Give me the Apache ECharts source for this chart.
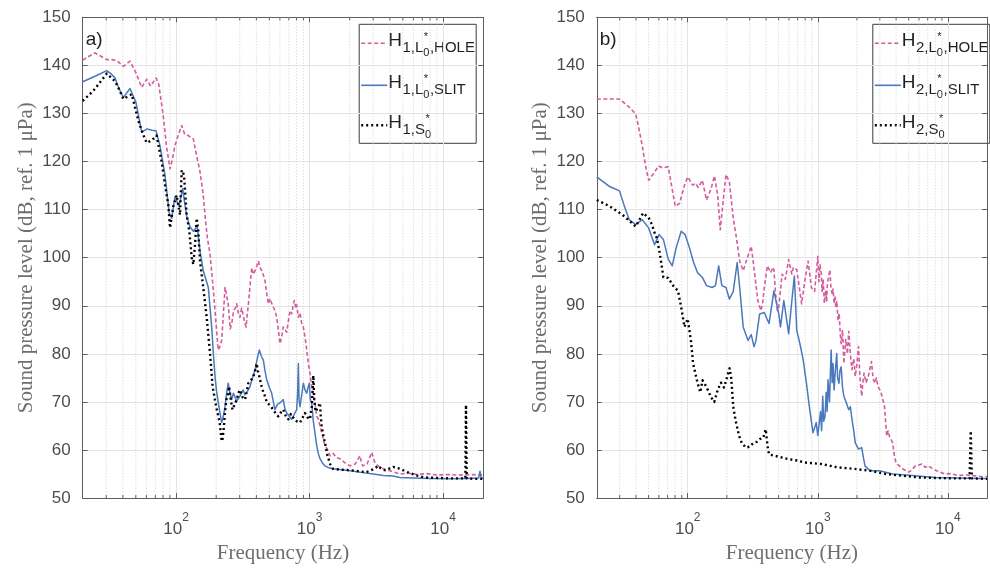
<!DOCTYPE html>
<html>
<head>
<meta charset="utf-8">
<script src="https://cdn.jsdelivr.net/npm/echarts@6/dist/echarts.min.js"></script>
<style>
  html, body { margin: 0; padding: 0; background: #ffffff; }
  #chart { width: 990px; height: 569px; }
</style>
</head>
<body>
<div id="chart"></div>
<script>
// Spectra as [frequency (Hz), level (dB re 1 uPa)] pairs.
// Panel a) — receiver H1
const HOLE_A = [[20,141.1],[22,141.8],[24.7,142.6],[27,142.0],[30.3,141.2],[33,141.2],[36,141.0],[40.3,139.8],[45.2,140.9],[50,138.5],[55.3,135.4],[60.3,137.1],[64.6,135.7],[70.8,137.4],[74.2,136.1],[77,133],[80.3,129.5],[85,123],[90.2,118.5],[94,120.5],[98.2,123.3],[104,125.5],[110.3,127.5],[116,125.7],[123.6,125.4],[134.8,124.7],[142,121.5],[151.2,117.9],[160,113],[166,108],[172,104],[180,100.7],[188,95],[196,89.0],[202,84.5],[207,80.8],[213,81.5],[220,82.9],[226,88],[233,93.8],[240,92],[246,90.4],[255,85.2],[262,86.5],[270,89],[278,89.5],[285,90.4],[293,88.5],[301,87.6],[310,89.5],[319,88.0],[327,86.5],[335,85.6],[341,88],[348,90.1],[358,94],[369,97.9],[380,96.5],[391,97.3],[402,98.2],[414,99.3],[426,98],[438,97.3],[451,96.4],[464,95.2],[478,92.5],[492,90.4],[505,91.5],[521,90.5],[536,89.7],[551,89],[568,87.6],[584,85],[601,82.1],[618,83.5],[636,85.6],[655,86],[675,84.5],[694,86.8],[714,89.0],[736,88.3],[757,90.4],[770,91.1],[790,89.5],[802,90.2],[825,87.6],[849,88.5],[874,86.3],[900,85.5],[925,83.5],[952,81],[980,78.0],[1008,76],[1038,73.2],[1068,71.5],[1099,69.8],[1131,67],[1163,66.5],[1198,65.0],[1250,63],[1306,60.9],[1360,60.2],[1424,58.8],[1500,59.3],[1600,58.4],[1692,58.2],[1850,57.3],[2010,56.7],[2200,57.1],[2388,58.8],[2450,57.3],[2510,56.7],[2700,57.1],[2924,59.5],[3000,58.5],[3090,57.4],[3300,56.6],[3570,56.1],[4000,55.7],[4764,55.0],[5500,55.2],[6500,54.9],[7500,55.1],[9000,54.8],[11000,54.9],[13000,54.8],[16000,54.9],[20000,54.8]];
const SLIT_A = [[20,136.6],[25,137.8],[30.3,138.9],[32.5,138.3],[34.9,137.4],[37,135.5],[40.3,133.3],[45.2,135.2],[50.1,132.3],[55.3,126.1],[60.9,126.8],[66,126.5],[70.8,126.4],[75.8,123.3],[82.7,117.2],[88.9,109.3],[92.8,108.2],[98.2,112.7],[101.2,113.0],[105.3,110.7],[112.2,114.4],[116,111.5],[120.2,108.6],[127,106.5],[134.8,105.5],[144.2,106.5],[151.2,101.4],[160,97.3],[164.8,97],[174.6,93.8],[185,85.6],[190,80.5],[196,75.3],[201,72.3],[207.4,69.8],[214,67.5],[220,65.7],[226,67],[233,69.1],[240,72],[246,73.9],[253,72],[261,70.5],[269,71.8],[277,71.5],[285,70.2],[293,70.5],[305,71.5],[319,72.5],[328,71.5],[338,71.2],[348,72.5],[358,73.2],[374,75],[391,76.7],[406,79],[421,80.8],[436,79.5],[451,78.7],[464,76.5],[478,74.6],[500,73],[521,71.8],[536,70],[551,68.4],[575,69.5],[601,69.8],[618,69.5],[636,70.5],[655,68.5],[675,67.7],[705,67],[736,66.4],[770,67.5],[802,68.4],[815,72],[825,78.0],[835,70.5],[849,69],[874,71.5],[900,73.9],[925,72.5],[952,71.8],[975,73],[997,73.9],[1015,70.5],[1038,69.8],[1068,66],[1099,63.5],[1131,61],[1163,59.3],[1198,58.2],[1250,57.3],[1306,56.7],[1400,56.3],[1500,56.1],[1750,55.9],[2010,55.7],[2500,55.3],[3000,55],[3570,54.7],[4200,54.6],[4764,54.3],[6000,54.2],[8000,54.1],[11270,54.0],[15000,54.1],[18500,54.2],[18920,55.6],[19300,54.2],[20000,54.2]];
const S0_A = [[20,132.6],[24,134.7],[27,136.5],[30.3,138.3],[34.9,136.7],[37.5,135],[40.3,133.0],[46.6,134.0],[52.2,128.5],[56,126],[60.3,123.9],[65.8,124.4],[71.5,125.4],[78.1,119.9],[82.7,115.1],[87.5,111.0],[90.2,106.2],[95.4,110.7],[101.2,113.0],[107.1,108.9],[110.3,118.2],[114.8,117.2],[120.2,108.9],[125.8,105.5],[131.1,100.0],[134.8,98.6],[138.8,102.7],[142.9,108.2],[146.9,105.5],[151.2,99.3],[160,93.8],[169.8,87.6],[179.8,80.1],[188,73.2],[199.5,69.1],[212.5,65.7],[218,62.5],[222,61.8],[227,64],[233,68],[238.7,70.5],[244,71.5],[250,73.2],[257,70.5],[265,68.4],[275,69.5],[285,70.5],[293,71.8],[301,72.5],[315,71],[329,70.5],[338,72],[348,73.9],[364,74.5],[380,75.3],[391,76.5],[402,78.0],[410,76.5],[421,75.3],[438,73.2],[451,72],[464,71.2],[478,70],[492,69.8],[514,69],[536,68.4],[560,67.5],[584,67.0],[610,67.8],[636,68.4],[665,67],[694,66.4],[725,67.5],[757,66.7],[800,66],[849,65.7],[890,66.8],[925,67.7],[965,66.8],[1008,66.4],[1040,69],[1068,75.5],[1085,70.5],[1110,68],[1131,67.7],[1165,69],[1198,69.8],[1215,67],[1233,65.0],[1268,63],[1306,61.5],[1360,59],[1424,57.1],[1500,56.1],[1700,55.9],[2010,55.8],[2300,55.6],[2670,55.4],[3000,56],[3270,56.7],[3480,56],[3680,55.8],[4000,56.2],[4240,56.5],[4764,56.1],[5380,55.4],[6200,54.8],[7200,54.3],[9000,54.2],[11270,54.1],[13500,54.1],[14700,54.1],[14860,69.4],[15050,54.1],[17000,54.0],[20000,54.0]];

// Panel b) — receiver H2
const HOLE_B = [[20,133.0],[25,133.0],[29.9,133.0],[35.5,131.3],[39.8,129.9],[42.2,126.8],[44.7,123.3],[47.3,119.2],[50.1,116.1],[54.7,117.5],[59.6,119.1],[63.7,118.7],[70.8,118.9],[75.0,115.1],[80.2,110.7],[86.6,111.3],[94.5,115.1],[100,116.8],[109.1,115.1],[115.2,115.5],[120.4,114.6],[129.6,116.1],[139.6,112.0],[151.4,114.4],[160.5,117.0],[170,113.0],[177.8,105.8],[188.4,112.4],[197,117.3],[209,115.8],[224,108.2],[237,104.1],[251,99.3],[267,97.3],[282,99.3],[308,102.4],[323,97.9],[346,91.1],[365,89.0],[376,90.4],[388,93.8],[410,98.3],[435,96.9],[451,98],[460,97.5],[474,92.4],[489,89.0],[501,89.7],[532,96.6],[548,96.6],[563,95.5],[597,99.6],[604,100.0],[632,96.6],[650,98],[669,97.9],[689,97.5],[709,95.2],[751,90.4],[795,95.2],[842,99.3],[893,93.8],[919,93.8],[945,93],[973,92.7],[1001,100.3],[1020,95],[1040,98.5],[1061,97],[1080,93],[1100,95.5],[1123,90.5],[1150,93],[1170,91],[1185,94.5],[1210,96],[1240,97.5],[1260,94],[1289,92.4],[1310,93.5],[1335,90.4],[1355,92],[1375,89.7],[1400,91],[1431,87],[1460,88.5],[1490,84],[1513,82.1],[1550,85],[1587,78],[1640,83],[1690,80],[1730,84.7],[1780,80],[1832,76.7],[1890,79],[1942,75.3],[2000,78],[2056,81.5],[2110,75],[2177,71.2],[2220,74],[2268,76.0],[2350,74],[2444,75.3],[2520,77],[2587,78.4],[2660,75],[2740,73.9],[2820,75],[2904,73.2],[3000,72.5],[3076,71.8],[3160,70.5],[3258,69.1],[3320,66],[3390,62.9],[3470,64],[3550,62.9],[3650,63.3],[3764,61.5],[3870,59],[3985,57.4],[4200,56.8],[4470,56.1],[5020,55.4],[5300,55.9],[5630,56.7],[6000,56.9],[6320,57.1],[6700,56.4],[7100,56.7],[7600,56.1],[8200,55.7],[9460,55.0],[10500,55.1],[11920,54.7],[14000,54.8],[17810,54.5],[20000,54.5]];
const SLIT_B = [[20,116.8],[25.1,114.8],[29.9,113.9],[32.6,110.7],[35.5,107.9],[39.8,106.9],[44.7,107.9],[50.1,106.2],[55.6,102.7],[60.2,104.8],[65.0,103.8],[70.8,99.7],[76,98.3],[81.6,102.1],[89.1,105.5],[95.5,104.8],[103,102.1],[111,99.0],[118.9,96.9],[129.6,95.9],[139.6,94.2],[154,93.8],[163.4,94.2],[173,98.3],[183,94.2],[197,93.8],[209,91.4],[224,93],[240,99.0],[251,93.8],[267,85.6],[291,82.8],[308,84],[323,81.5],[335,82.8],[357,88.3],[388,88.6],[422,86.3],[460,93.1],[501,88.3],[517,85.6],[548,91.1],[597,84.2],[632,91.1],[661,96.2],[689,84.9],[729,82.1],[773,78.7],[818,73.9],[867,68.4],[919,63.6],[973,65.7],[1000,63],[1030,62.6],[1050,68],[1070,64],[1092,71.2],[1110,66],[1137,67.0],[1160,72],[1180,68],[1199,74.6],[1230,70],[1267,80.8],[1290,74],[1310,78],[1335,72.5],[1360,76],[1399,80.1],[1420,75],[1455,73.9],[1480,76.5],[1513,77.3],[1550,73],[1587,71.2],[1650,70],[1730,68.4],[1780,69],[1832,66.4],[1890,64],[1942,61.5],[2056,60.2],[2177,60.5],[2240,58.5],[2307,56.7],[2516,55.7],[2990,55.7],[3764,55.0],[5310,54.7],[7960,54.3],[17810,54.1],[20000,54.1]];
const S0_B = [[20,112.0],[25.1,110.7],[31.6,108.9],[39.8,106.5],[45.4,109.3],[50.1,108.3],[53,106.9],[56.2,104.8],[57.9,104.1],[61.2,100.7],[65.0,95.9],[70.8,95.8],[77.2,94.2],[84.2,93.1],[89.1,89.7],[94.5,85.6],[100,87.3],[105.8,82.8],[110,78],[118.9,74],[125,72],[130,74.5],[140,73],[151,71],[160,70],[170,72.5],[180,74],[190,73],[200,75],[210,77],[216,75],[224,69],[234,66],[248,63],[260,61.5],[280,60.5],[300,60.7],[320,61.5],[340,61.7],[360,62.3],[380,62.5],[398,64.3],[410,61],[422,59.1],[500,58.6],[597,58.1],[700,57.8],[795,57.4],[1061,57.1],[1414,56.4],[1886,56.1],[2516,55.7],[3350,55.0],[5960,54.3],[10610,54.1],[14700,54.1],[15000,64.0],[15300,54.1],[20000,54.0]];

// Minor decade positions for the dotted grid and small ticks
const MINOR_F = [30,40,50,60,70,80,90,200,300,400,500,600,700,800,900,2000,3000,4000,5000,6000,7000,8000,9000];

const PINK = '#d45c9c';
const BLUE = '#4a78bd';
const BLACK = '#000000';
const AXIS = '#5e5e5e';
const TICK_TXT = '#4d4d4d';
const TITLE_TXT = '#6e6e6e';
const SANS = "'Liberation Sans', Arial, Helvetica, sans-serif";
const SERIF = "'Liberation Serif', 'Times New Roman', serif";

const GRIDS = [
  { left: 82.7, top: 17.3, width: 400.5, height: 485.4 },
  { left: 596.8, top: 17.3, width: 400, height: 485.4 }
];

function decadeLabel(v) {
  const e = Math.round(Math.log10(v));
  if (Math.abs(Math.pow(10, e) - v) > 1e-6 * v) return '';
  return '{b|10}{s|' + e + '}';
}

function bottomX(i) {
  return {
    type: 'log', logBase: 10, gridIndex: i, min: 20, max: 20000, position: 'bottom',
    axisLine: { show: true, onZero: false, lineStyle: { color: AXIS, width: 1 } },
    axisTick: { show: true, inside: true, length: 5, lineStyle: { color: AXIS } },
    axisLabel: {
      margin: 14, formatter: decadeLabel,
      rich: {
        b: { fontSize: 17, fontFamily: SANS, color: TICK_TXT, lineHeight: 26, verticalAlign: 'bottom' },
        s: { fontSize: 12, fontFamily: SANS, color: TICK_TXT, lineHeight: 12, verticalAlign: 'top' }
      }
    },
    splitLine: { show: true, lineStyle: { color: '#e4e4e4', width: 1 } },
    name: 'Frequency (Hz)', nameLocation: 'middle', nameGap: 41,
    nameTextStyle: { fontFamily: SERIF, fontSize: 21, color: TITLE_TXT }
  };
}
function topX(i) {
  return {
    type: 'log', logBase: 10, gridIndex: i, min: 20, max: 20000, position: 'top',
    axisLine: { show: true, onZero: false, lineStyle: { color: AXIS, width: 1 } },
    axisTick: { show: true, inside: true, length: 5, lineStyle: { color: AXIS } },
    axisLabel: { show: false }, splitLine: { show: false }
  };
}
function leftY(i) {
  return {
    type: 'value', gridIndex: i, min: 50, max: 150, interval: 10, position: 'left',
    axisLine: { show: true, onZero: false, lineStyle: { color: AXIS, width: 1 } },
    axisTick: { show: true, inside: true, length: 5, lineStyle: { color: AXIS } },
    axisLabel: { fontSize: 17, fontFamily: SANS, color: TICK_TXT, margin: 12 },
    splitLine: { show: true, lineStyle: { color: '#e4e4e4', width: 1 } },
    name: 'Sound pressure level (dB, ref. 1 \u03bcPa)', nameLocation: 'middle', nameGap: 46,
    nameTextStyle: { fontFamily: SERIF, fontSize: 21, color: TITLE_TXT }
  };
}
function rightY(i) {
  return {
    type: 'value', gridIndex: i, min: 50, max: 150, interval: 10, position: 'right',
    axisLine: { show: true, onZero: false, lineStyle: { color: AXIS, width: 1 } },
    axisTick: { show: true, inside: true, length: 5, lineStyle: { color: AXIS } },
    axisLabel: { show: false }, splitLine: { show: false }
  };
}

// dotted minor grid lines plus short inward ticks at top and bottom
function minorSeries(i) {
  return {
    type: 'custom', xAxisIndex: i, yAxisIndex: i, z: 1, silent: true,
    data: MINOR_F.map(f => [f, 100]),
    renderItem: function (params, api) {
      const f = api.value(0);
      const t = api.coord([f, 150]);
      const b = api.coord([f, 50]);
      return {
        type: 'group', children: [
          { type: 'line', shape: { x1: t[0], y1: t[1], x2: b[0], y2: b[1] }, style: { stroke: '#cfcfcf', lineWidth: 1, lineDash: [1, 2] } },
          { type: 'line', shape: { x1: b[0], y1: b[1], x2: b[0], y2: b[1] - 3 }, style: { stroke: AXIS, lineWidth: 1 } },
          { type: 'line', shape: { x1: t[0], y1: t[1], x2: t[0], y2: t[1] + 3 }, style: { stroke: AXIS, lineWidth: 1 } }
        ]
      };
    }
  };
}

function lineSeries(i, name, data, color, width, dash) {
  return {
    type: 'line', name: name, xAxisIndex: i, yAxisIndex: i, data: data,
    symbol: 'none', showSymbol: false, z: 3, clip: true,
    lineStyle: { color: color, width: width, type: dash, cap: 'butt', join: 'round' }
  };
}

// Legend drawn as text runs with sub/superscripts
const measureCtx = document.createElement('canvas').getContext('2d');
function textWidth(str, size) { measureCtx.font = size + 'px ' + SANS; return measureCtx.measureText(str).width; }

function legendRow(x, y, color, width, dash, idx, letter, tail) {
  const els = [{ type: 'line', shape: { x1: x, y1: y, x2: x + 26, y2: y }, style: { stroke: color, lineWidth: width, lineDash: dash } }];
  let cx = x + 27;
  const put = (t, size, dy, px) => {
    els.push({ type: 'text', x: px, y: y + dy, style: { text: t, font: size + 'px ' + SANS, fill: '#1f1f1f', align: 'left', verticalAlign: 'middle' } });
  };
  put('H', 19, -3, cx); cx += textWidth('H', 19) + 0.5;
  const sub = idx + ',' + letter;
  put(sub, 15, 5, cx); cx += textWidth(sub, 15);
  put('*', 11, -6, cx + 0.5);
  put('0', 11, 10, cx);
  cx += textWidth('0', 11) + 0.5;
  if (tail) put(',' + tail, 15, 5, cx);
  return els;
}

function legendBox(gi, idx) {
  const g = GRIDS[gi];
  const right = g.left + g.width - 7;
  const top = g.top + 7;
  const w = 117, h = 119;
  const left = right - w;
  const children = [{ type: 'rect', shape: { x: left, y: top, width: w, height: h }, style: { fill: '#ffffff', stroke: '#3c3c3c', lineWidth: 1 } }];
  children.push(...legendRow(left + 2, top + 19, PINK, 1.6, [4, 2.5], idx, 'L', 'HOLE'));
  children.push(...legendRow(left + 2, top + 61, BLUE, 1.6, null, idx, 'L', 'SLIT'));
  children.push(...legendRow(left + 2, top + 101, BLACK, 2.4, [2, 3], idx, 'S', ''));
  return { type: 'group', z: 10, children: children };
}

const chart = echarts.init(document.getElementById('chart'), null, { renderer: 'canvas' });
chart.setOption({
  animation: false,
  backgroundColor: '#ffffff',
  grid: GRIDS.map(g => Object.assign({ containLabel: false }, g)),
  xAxis: [bottomX(0), bottomX(1), topX(0), topX(1)],
  yAxis: [leftY(0), leftY(1), rightY(0), rightY(1)],
  series: [
    minorSeries(0), minorSeries(1),
    lineSeries(0, 'H1,L0*,HOLE', HOLE_A, PINK, 1.6, [4, 2.5]),
    lineSeries(0, 'H1,L0*,SLIT', SLIT_A, BLUE, 1.5, 'solid'),
    lineSeries(0, 'H1,S0*', S0_A, BLACK, 2.4, [2, 3]),
    lineSeries(1, 'H2,L0*,HOLE', HOLE_B, PINK, 1.6, [4, 2.5]),
    lineSeries(1, 'H2,L0*,SLIT', SLIT_B, BLUE, 1.5, 'solid'),
    lineSeries(1, 'H2,S0*', S0_B, BLACK, 2.4, [2, 3])
  ],
  graphic: [
    legendBox(0, 1), legendBox(1, 2),
    { type: 'text', x: GRIDS[0].left + 3, y: GRIDS[0].top + 22, style: { text: 'a)', font: '19px ' + SANS, fill: '#1f1f1f', verticalAlign: 'middle' } },
    { type: 'text', x: GRIDS[1].left + 3, y: GRIDS[1].top + 22, style: { text: 'b)', font: '19px ' + SANS, fill: '#1f1f1f', verticalAlign: 'middle' } }
  ]
});
</script>
</body>
</html>
